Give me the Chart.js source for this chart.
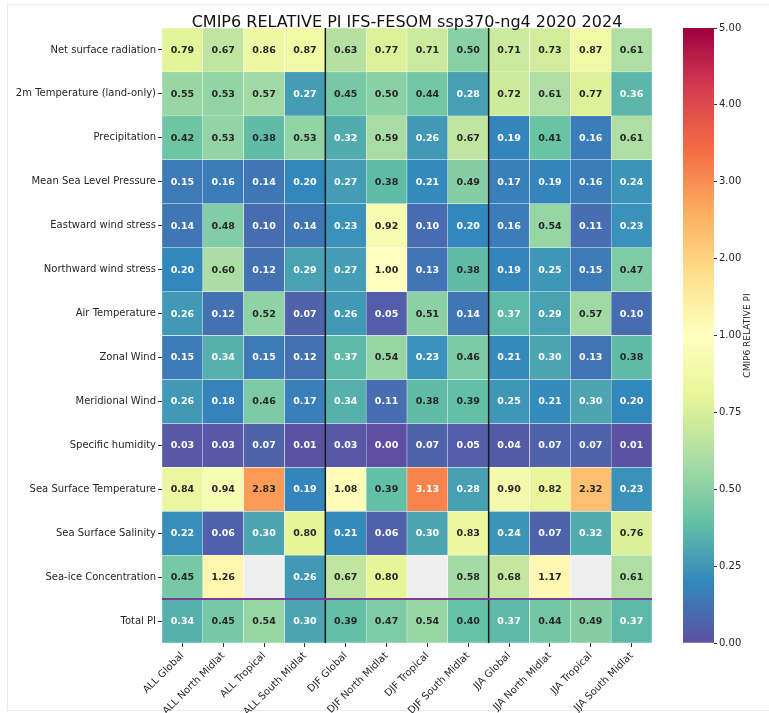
<!DOCTYPE html>
<html>
<head>
<meta charset="utf-8">
<script src="https://cdn.jsdelivr.net/npm/chart.js@4.4.1/dist/chart.umd.min.js"></script>
<style>
  html, body { margin: 0; padding: 0; background: #ffffff; }
  #wrap { position: relative; width: 769px; height: 713px; overflow: hidden; }
  #frame { position: absolute; left: 7px; top: 4px; width: 770px; height: 707px; border: 1px solid #ececec; box-sizing: border-box; }
  canvas { position: absolute; top: 0; }
</style>
</head>
<body>
<div id="wrap">
  <div id="frame"></div>
  <canvas id="heat" width="769" height="713" style="left:0"></canvas>
  <canvas id="cbar" width="109" height="713" style="left:660px"></canvas>
</div>
<script>
// ---- data ----
const chartTitle = 'CMIP6 RELATIVE PI IFS-FESOM ssp370-ng4 2020 2024';
const colorbarLabel = 'CMIP6 RELATIVE PI';

const columns = [
  'ALL Global', 'ALL North Midlat', 'ALL Tropical', 'ALL South Midlat',
  'DJF Global', 'DJF North Midlat', 'DJF Tropical', 'DJF South Midlat',
  'JJA Global', 'JJA North Midlat', 'JJA Tropical', 'JJA South Midlat'
];

const metrics = [
  'Net surface radiation', '2m Temperature (land-only)', 'Precipitation',
  'Mean Sea Level Pressure', 'Eastward wind stress', 'Northward wind stress',
  'Air Temperature', 'Zonal Wind', 'Meridional Wind', 'Specific humidity',
  'Sea Surface Temperature', 'Sea Surface Salinity', 'Sea-ice Concentration',
  'Total PI'
];

const netSurfaceRadiation = [0.79, 0.67, 0.86, 0.87, 0.63, 0.77, 0.71, 0.50, 0.71, 0.73, 0.87, 0.61];
const temperature2mLand   = [0.55, 0.53, 0.57, 0.27, 0.45, 0.50, 0.44, 0.28, 0.72, 0.61, 0.77, 0.36];
const precipitation       = [0.42, 0.53, 0.38, 0.53, 0.32, 0.59, 0.26, 0.67, 0.19, 0.41, 0.16, 0.61];
const meanSeaLevelPressure= [0.15, 0.16, 0.14, 0.20, 0.27, 0.38, 0.21, 0.49, 0.17, 0.19, 0.16, 0.24];
const eastwardWindStress  = [0.14, 0.48, 0.10, 0.14, 0.23, 0.92, 0.10, 0.20, 0.16, 0.54, 0.11, 0.23];
const northwardWindStress = [0.20, 0.60, 0.12, 0.29, 0.27, 1.00, 0.13, 0.38, 0.19, 0.25, 0.15, 0.47];
const airTemperature      = [0.26, 0.12, 0.52, 0.07, 0.26, 0.05, 0.51, 0.14, 0.37, 0.29, 0.57, 0.10];
const zonalWind           = [0.15, 0.34, 0.15, 0.12, 0.37, 0.54, 0.23, 0.46, 0.21, 0.30, 0.13, 0.38];
const meridionalWind      = [0.26, 0.18, 0.46, 0.17, 0.34, 0.11, 0.38, 0.39, 0.25, 0.21, 0.30, 0.20];
const specificHumidity    = [0.03, 0.03, 0.07, 0.01, 0.03, 0.00, 0.07, 0.05, 0.04, 0.07, 0.07, 0.01];
const seaSurfaceTemp      = [0.84, 0.94, 2.83, 0.19, 1.08, 0.39, 3.13, 0.28, 0.90, 0.82, 2.32, 0.23];
const seaSurfaceSalinity  = [0.22, 0.06, 0.30, 0.80, 0.21, 0.06, 0.30, 0.83, 0.24, 0.07, 0.32, 0.76];
const seaIceConcentration = [0.45, 1.26, null, 0.26, 0.67, 0.80, null, 0.58, 0.68, 1.17, null, 0.61];
const totalPI             = [0.34, 0.45, 0.54, 0.30, 0.39, 0.47, 0.54, 0.40, 0.37, 0.44, 0.49, 0.37];

const rowValues = [
  netSurfaceRadiation, temperature2mLand, precipitation, meanSeaLevelPressure,
  eastwardWindStress, northwardWindStress, airTemperature, zonalWind,
  meridionalWind, specificHumidity, seaSurfaceTemp, seaSurfaceSalinity,
  seaIceConcentration, totalPI
];

const colorbarTicks = [0, 0.25, 0.5, 0.75, 1, 2, 3, 4, 5];

// ---- colour mapping: Spectral_r with a two-slope norm centred on 1 ----
const vMin = 0, vCenter = 1, vMax = 5;
function norm(v) {
  if (v <= vCenter) return 0.5 * (v - vMin) / (vCenter - vMin);
  return 0.5 + 0.5 * (v - vCenter) / (vMax - vCenter);
}
const spectralR = ['#5e4fa2', '#3288bd', '#66c2a5', '#abdda4', '#e6f598',
                   '#ffffbf', '#fee08b', '#fdae61', '#f46d43', '#d53e4f', '#9e0142'];
function hexToRgb(h) {
  return [parseInt(h.slice(1, 3), 16), parseInt(h.slice(3, 5), 16), parseInt(h.slice(5, 7), 16)];
}
function cmapRgb(t) {
  t = Math.max(0, Math.min(1, t));
  const pos = t * (spectralR.length - 1);
  const k = Math.min(Math.floor(pos), spectralR.length - 2);
  const f = pos - k;
  const a = hexToRgb(spectralR[k]), b = hexToRgb(spectralR[k + 1]);
  return a.map((c, i) => c + (b[i] - c) * f);
}
function cellColor(v) {
  if (v == null) return '#efefef';
  const c = cmapRgb(norm(v));
  return `rgb(${c.map(Math.round).join(',')})`;
}
function textColor(v) {
  const lin = cmapRgb(norm(v)).map(c => {
    c /= 255;
    return c <= 0.03928 ? c / 12.92 : Math.pow((c + 0.055) / 1.055, 2.4);
  });
  const lum = 0.2126 * lin[0] + 0.7152 * lin[1] + 0.0722 * lin[2];
  return lum > 0.408 ? '#262626' : '#ffffff';
}

Chart.defaults.font.family = '"DejaVu Sans", sans-serif';
Chart.defaults.color = '#262626';

// ---- plugins for the heatmap ----
const cellLabels = {
  id: 'cellLabels',
  afterDatasetsDraw(chart) {
    const ctx = chart.ctx;
    ctx.save();
    ctx.font = 'bold 9.5px "DejaVu Sans"';
    ctx.textAlign = 'center';
    ctx.textBaseline = 'middle';
    chart.data.datasets.forEach((ds, i) => {
      const meta = chart.getDatasetMeta(i);
      ds.cellValues.forEach((v, j) => {
        if (v == null) return;
        const el = meta.data[j];
        ctx.fillStyle = textColor(v);
        ctx.fillText(v.toFixed(2), el.x, (el.y + el.base) / 2 + 0.5);
      });
    });
    ctx.restore();
  }
};

const separators = {
  id: 'separators',
  afterDatasetsDraw(chart) {
    const { ctx, chartArea, scales } = chart;
    const x = scales.x, y = scales.y;
    ctx.save();
    // season group boundaries
    ctx.strokeStyle = '#1a1a1a';
    ctx.lineWidth = 1.5;
    [4, 8].forEach(k => {
      const px = (x.getPixelForValue(k - 1) + x.getPixelForValue(k)) / 2;
      ctx.beginPath();
      ctx.moveTo(px, chartArea.top);
      ctx.lineTo(px, chartArea.bottom);
      ctx.stroke();
    });
    // line above the Total PI row
    ctx.strokeStyle = '#7d3c98';
    ctx.lineWidth = 2;
    const py = y.getPixelForValue(metrics.length - 1);
    ctx.beginPath();
    ctx.moveTo(chartArea.left, py);
    ctx.lineTo(chartArea.right, py);
    ctx.stroke();
    ctx.restore();
  }
};

const heatTitle = {
  id: 'heatTitle',
  afterDraw(chart) {
    const { ctx, chartArea } = chart;
    ctx.save();
    ctx.font = '16px "DejaVu Sans"';
    ctx.fillStyle = '#111111';
    ctx.textAlign = 'center';
    ctx.textBaseline = 'alphabetic';
    ctx.fillText(chartTitle, (chartArea.left + chartArea.right) / 2, chartArea.top - 1.5);
    ctx.restore();
  }
};

const heatDatasets = rowValues.map((vals, i) => ({
  label: metrics[i],
  cellValues: vals,
  data: vals.map(() => [i, i + 1]),
  backgroundColor: vals.map(cellColor),
  borderColor: 'rgba(255,255,255,0.85)',
  borderWidth: 0.5,
  borderSkipped: false,
  barPercentage: 1,
  categoryPercentage: 1,
  grouped: false
}));

new Chart(document.getElementById('heat'), {
  type: 'bar',
  data: { labels: columns, datasets: heatDatasets },
  options: {
    responsive: false,
    animation: false,
    layout: { padding: { left: 0, top: 28, right: 117, bottom: 0 } },
    plugins: { legend: { display: false }, tooltip: { enabled: false }, title: { display: false } },
    scales: {
      x: {
        type: 'category',
        offset: true,
        border: { display: false },
        grid: { display: true, offset: false, drawOnChartArea: false, drawTicks: true, tickLength: 4, color: '#333333', tickWidth: 1 },
        ticks: { autoSkip: false, maxRotation: 45, minRotation: 45, padding: 3, font: { size: 10 }, color: '#262626' },
        afterFit(scale) { scale.height = 70; }
      },
      y: {
        type: 'linear',
        min: 0,
        max: metrics.length,
        reverse: true,
        border: { display: false },
        grid: { display: true, drawOnChartArea: false, drawTicks: true, tickLength: 4, color: '#333333', tickWidth: 1 },
        afterBuildTicks(scale) { scale.ticks = metrics.map((_, i) => ({ value: i + 0.5 })); },
        ticks: {
          autoSkip: false,
          padding: 2,
          font: { size: 10 },
          color: '#262626',
          callback: (value) => metrics[Math.round(value - 0.5)]
        },
        afterFit(scale) { scale.width = 162; }
      }
    }
  },
  plugins: [separators, cellLabels, heatTitle]
});

// ---- colour bar ----
const cbarLabelPlugin = {
  id: 'cbarLabel',
  afterDraw(chart) {
    const { ctx, chartArea } = chart;
    ctx.save();
    ctx.font = '9px "DejaVu Sans"';
    ctx.fillStyle = '#262626';
    ctx.textAlign = 'center';
    ctx.textBaseline = 'middle';
    ctx.translate(88, (chartArea.top + chartArea.bottom) / 2);
    ctx.rotate(-Math.PI / 2);
    ctx.fillText(colorbarLabel, 0, 0);
    ctx.restore();
  }
};

new Chart(document.getElementById('cbar'), {
  type: 'bar',
  data: {
    labels: [colorbarLabel],
    datasets: [{
      data: [[norm(vMin), norm(vMax)]],
      backgroundColor(ctx) {
        const area = ctx.chart.chartArea;
        if (!area) return '#cccccc';
        const g = ctx.chart.ctx.createLinearGradient(0, area.bottom, 0, area.top);
        spectralR.forEach((c, k) => g.addColorStop(k / (spectralR.length - 1), c));
        return g;
      },
      borderWidth: 0,
      barPercentage: 1,
      categoryPercentage: 1
    }]
  },
  options: {
    responsive: false,
    animation: false,
    layout: { padding: { left: 23, top: 28, right: 0, bottom: 70 } },
    plugins: { legend: { display: false }, tooltip: { enabled: false } },
    scales: {
      x: { display: false },
      y: {
        type: 'linear',
        position: 'right',
        min: 0,
        max: 1,
        border: { display: false },
        grid: { display: true, drawOnChartArea: false, drawTicks: true, tickLength: 3, color: '#333333' },
        afterBuildTicks(scale) { scale.ticks = colorbarTicks.map(v => ({ value: norm(v) })); },
        ticks: {
          autoSkip: false,
          padding: 2,
          font: { size: 10 },
          color: '#262626',
          callback: (value, index) => colorbarTicks[index].toFixed(2)
        },
        afterFit(scale) { scale.width = 55; }
      }
    }
  },
  plugins: [cbarLabelPlugin]
});
</script>
</body>
</html>
